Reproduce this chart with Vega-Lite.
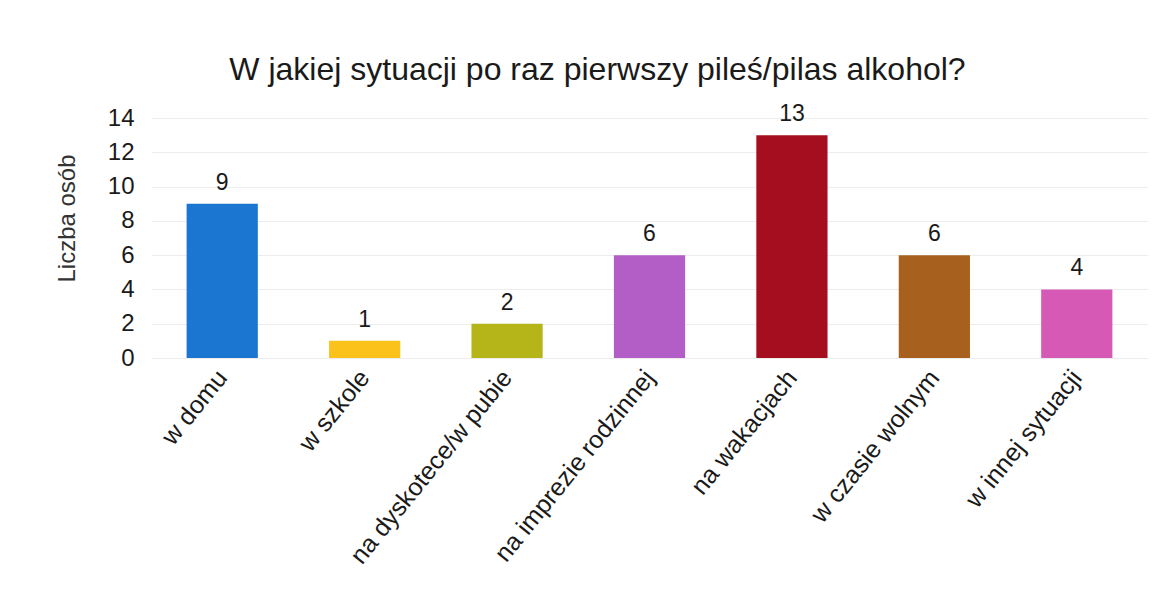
{
  "$schema": "https://vega.github.io/schema/vega-lite/v6.json",
  "width": 997,
  "height": 240,
  "autosize": {"type": "none"},
  "padding": {"left": 151, "top": 118, "right": 13, "bottom": 237},
  "background": "white",
  "config": {
    "font": "Liberation Sans",
    "view": {"stroke": null}
  },
  "title": {
    "text": "W jakiej sytuacji po raz pierwszy pileś/pilas alkohol?",
    "fontSize": 32,
    "fontWeight": "normal",
    "color": "#1a1a1a",
    "anchor": "middle",
    "dx": -52,
    "offset": 16
  },
  "data": {
    "values": [
      {"kategoria": "w domu", "liczba": 9, "kolor": "#1a76d0"},
      {"kategoria": "w szkole", "liczba": 1, "kolor": "#fcc21c"},
      {"kategoria": "na dyskotece/w pubie", "liczba": 2, "kolor": "#b5b51a"},
      {"kategoria": "na imprezie rodzinnej", "liczba": 6, "kolor": "#b35ec6"},
      {"kategoria": "na wakacjach", "liczba": 13, "kolor": "#a50e1e"},
      {"kategoria": "w czasie wolnym", "liczba": 6, "kolor": "#a8601e"},
      {"kategoria": "w innej sytuacji", "liczba": 4, "kolor": "#d65ab5"}
    ]
  },
  "encoding": {
    "x": {
      "field": "kategoria",
      "type": "nominal",
      "sort": null,
      "scale": {"paddingInner": 0.5, "paddingOuter": 0.25},
      "axis": {
        "title": null,
        "labelAngle": -51,
        "labelFontSize": 25,
        "labelColor": "#1a1a1a",
        "labelPadding": 15,
        "ticks": false,
        "domain": false,
        "labelLimit": 400
      }
    },
    "y": {
      "field": "liczba",
      "type": "quantitative",
      "scale": {"domain": [0, 14]},
      "axis": {
        "title": "Liczba osób",
        "titleFontSize": 24,
        "titleFontWeight": "normal",
        "titleColor": "#333333",
        "titlePadding": 28,
        "titleY": 100,
        "values": [0, 2, 4, 6, 8, 10, 12, 14],
        "labelFontSize": 24,
        "labelColor": "#1a1a1a",
        "labelPadding": 17,
        "ticks": false,
        "domain": false,
        "gridColor": "#ececec"
      }
    }
  },
  "layer": [
    {
      "mark": {"type": "bar"},
      "encoding": {
        "color": {"field": "kolor", "type": "nominal", "scale": null}
      }
    },
    {
      "mark": {"type": "text", "baseline": "bottom", "dy": -9, "fontSize": 23, "color": "#1a1a1a"},
      "encoding": {
        "text": {"field": "liczba", "type": "quantitative"}
      }
    }
  ]
}
